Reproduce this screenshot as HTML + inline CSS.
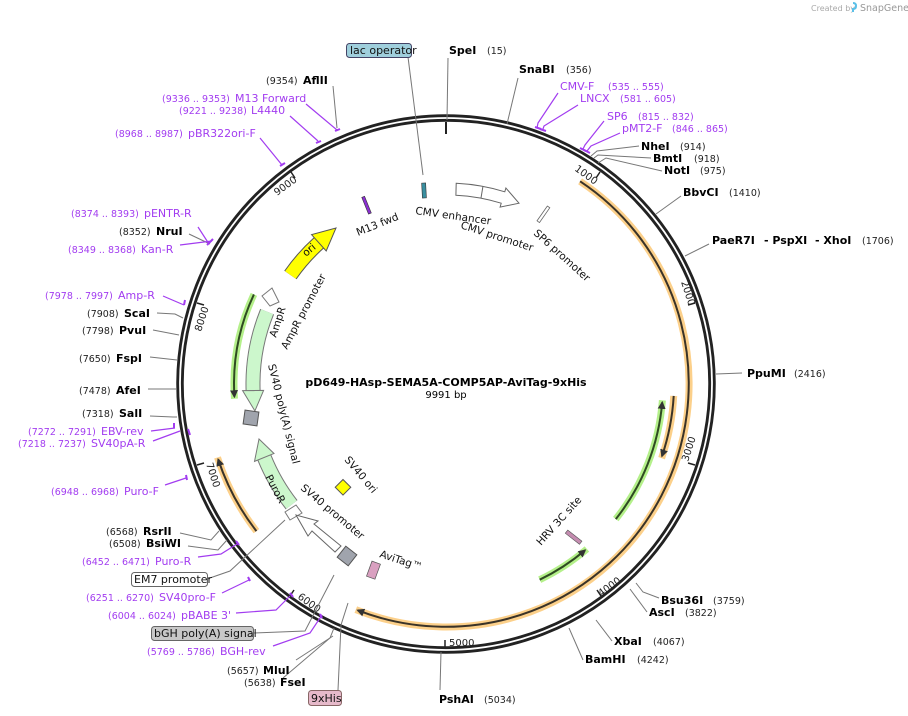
<!DOCTYPE html>
<html><head><meta charset="utf-8">
<style>
html,body{margin:0;padding:0;background:#fff;}
svg{display:block;}
text{font-family:"DejaVu Sans","Liberation Sans",sans-serif;}
.n{font-size:11px;font-weight:bold;fill:#000;}
.p{font-size:9.5px;fill:#222;}
.pu{font-size:11px;fill:#a23cf0;}
.pp{font-size:9.5px;fill:#a23cf0;}
.f{font-size:11px;fill:#111;}
.ln{stroke:#777;stroke-width:1;fill:none;}
.pl{stroke:#a23cf0;stroke-width:1.2;fill:none;}
</style></head>
<body>
<svg width="908" height="716" viewBox="0 0 908 716" xmlns="http://www.w3.org/2000/svg">
<defs>
<marker id="ah" viewBox="0 0 10 10" refX="8" refY="5" markerWidth="4" markerHeight="4" orient="auto" markerUnits="strokeWidth">
<path d="M0,0 L10,5 L0,10 z" fill="#333"/></marker>
</defs>
<text x="811" y="11" style="font-size:8px;fill:#aaa">Created by</text>
<path d="M853,3 q3,0 3,3 q0,3 -3,3 v3" stroke="#5bc0e8" stroke-width="2" fill="none"/>
<text x="860" y="11" style="font-size:9.5px;fill:#999">SnapGene</text>

<!-- backbone -->
<circle cx="446" cy="384" r="266" fill="none" stroke="#222" stroke-width="7.5"/>
<circle cx="446" cy="384" r="266" fill="none" stroke="#fff" stroke-width="1.8"/>

<!-- ticks -->
<g stroke="#222" stroke-width="2">
<line x1="446" y1="122" x2="446" y2="134"/>
</g>
<g stroke="#222" stroke-width="1.5">
<line x1="600" y1="172" x2="596" y2="178"/>
<line x1="695" y1="303" x2="688" y2="305"/>
<line x1="695" y1="465" x2="688" y2="463"/>
<line x1="601" y1="596" x2="597" y2="590"/>
<line x1="445" y1="647" x2="445" y2="640"/>
<line x1="290" y1="596" x2="294" y2="590"/>
<line x1="197" y1="465" x2="204" y2="463"/>
<line x1="197" y1="303" x2="204" y2="305"/>
<line x1="291" y1="172" x2="295" y2="178"/>
</g>
<g style="font-size:10px;fill:#222">
<text transform="translate(574,170) rotate(36)">1000</text>
<text transform="translate(681,282) rotate(72)">2000</text>
<text transform="translate(688,462) rotate(-72)">3000</text>
<text transform="translate(601,597) rotate(-36)">4000</text>
<text x="449" y="646">5000</text>
<text transform="translate(297,598) rotate(36)">6000</text>
<text transform="translate(206,464) rotate(72)">7000</text>
<text transform="translate(201,332) rotate(-72)">8000</text>
<text transform="translate(277,196) rotate(-36)">9000</text>
</g>

<!-- ORF arcs -->
<g fill="none">
<path d="M580.1,181.3 A243,243 0 0 1 355.8,609.6" stroke="#fcd08a" stroke-width="7"/>
<path d="M580.1,181.3 A243,243 0 0 1 357.8,610.3" stroke="#3a3328" stroke-width="2" marker-end="url(#ah)"/>
<path d="M673.7,395.9 A228,228 0 0 1 661.6,458.2" stroke="#fcd08a" stroke-width="7"/>
<path d="M673.7,395.9 A228,228 0 0 1 662,456" stroke="#3a3328" stroke-width="2" marker-end="url(#ah)"/>
<path d="M256.4,531.1 A240,240 0 0 1 217.5,457.4" stroke="#fcd08a" stroke-width="7"/>
<path d="M256.4,531.1 A240,240 0 0 1 218.2,459.5" stroke="#3a3328" stroke-width="2" marker-end="url(#ah)"/>
<path d="M615.8,519.1 A217,217 0 0 0 662.4,400.3" stroke="#b4f08a" stroke-width="7"/>
<path d="M615.8,519.1 A217,217 0 0 0 662.2,402.5" stroke="#2f4a22" stroke-width="2" marker-end="url(#ah)"/>
<path d="M539.7,579.7 A217,217 0 0 0 586.9,549.0" stroke="#b4f08a" stroke-width="7"/>
<path d="M539.7,579.7 A217,217 0 0 0 585,550.3" stroke="#2f4a22" stroke-width="2" marker-end="url(#ah)"/>
<path d="M253.9,294.4 A212,212 0 0 0 234.5,398.8" stroke="#b4f08a" stroke-width="7"/>
<path d="M253.9,294.4 A212,212 0 0 0 234.4,396.6" stroke="#2f4a22" stroke-width="2" marker-end="url(#ah)"/>
</g>

<!-- AmpR -->
<path d="M267.1,311.7 A193,193 0 0 0 253.1,390.7" fill="none" stroke="#777" stroke-width="15"/>
<path d="M267.1,311.7 A193,193 0 0 0 253.1,390.7" fill="none" stroke="#ccf7cc" stroke-width="13"/>
<polygon points="242.6,390.6 263.6,390.4 254.9,410.9" fill="#ccf7cc" stroke="#777" stroke-width="1"/>
<polygon points="262,296 272,288 279,302 270,306" fill="#fff" stroke="#777" stroke-width="1"/>
<!-- ori -->
<path d="M290.4,275.0 A190,190 0 0 1 318.9,242.8" fill="none" stroke="#555" stroke-width="15"/>
<path d="M290.4,275.0 A190,190 0 0 1 318.9,242.8" fill="none" stroke="#ffff00" stroke-width="13"/>
<polygon points="311.5,234.6 326.2,251.0 336,228" fill="#ffff00" stroke="#555" stroke-width="1"/>
<!-- PuroR -->
<path d="M291.6,504.7 A196,196 0 0 1 264.3,457.4" fill="none" stroke="#777" stroke-width="15"/>
<path d="M291.6,504.7 A196,196 0 0 1 264.3,457.4" fill="none" stroke="#ccf7cc" stroke-width="13"/>
<polygon points="254.5,461.4 274,453.5 259,439" fill="#ccf7cc" stroke="#777" stroke-width="1"/>
<polygon points="285,512 296,505 302,513 290,520" fill="#fff" stroke="#777" stroke-width="1"/>
<!-- CMV -->
<path d="M456.2,183.3 A201,201 0 0 1 504.8,191.8 L505.9,188 L519,203.2 L500.1,207.1 L501.2,203.2 A189,189 0 0 0 455.9,195.3 Z" fill="#fff" stroke="#666" stroke-width="1"/>
<line x1="483" y1="186" x2="481" y2="198" stroke="#666"/>
<!-- SV40 promoter -->
<path d="M335,552 L312,531 L308,536 L296,515 L318,521 L314,524 L341,546 Z" fill="#fff" stroke="#666" stroke-width="1"/>
<!-- small features -->
<rect x="244" y="411" width="14" height="14" fill="#a0a4ad" stroke="#555" transform="rotate(8 251 418)"/>
<rect x="340" y="549" width="14" height="14" fill="#a0a4ad" stroke="#555" transform="rotate(38 347 556)"/>
<rect x="337" y="482" width="11" height="11" fill="#ffff00" stroke="#555" transform="rotate(45 343 488)"/>
<rect x="422" y="183" width="4" height="15" fill="#3a8fa0" stroke="#333" stroke-width=".6" transform="rotate(-3 424 190)"/>
<rect x="365" y="196" width="3" height="18" fill="#8a2fd0" stroke="#333" stroke-width=".6" transform="rotate(-22 367 205)"/>
<rect x="542" y="205" width="3" height="18" fill="#fff" stroke="#666" stroke-width=".8" transform="rotate(35 543 214)"/>
<rect x="572" y="529" width="4" height="18" fill="#c48cb0" stroke="#555" stroke-width=".6" transform="rotate(-52 573 538)"/>
<rect x="369" y="562" width="9" height="16" fill="#d9a0c0" stroke="#555" stroke-width=".7" transform="rotate(20 373 570)"/>

<!-- inner labels -->
<g style="font-size:10.5px;fill:#111">
<text transform="translate(415,214) rotate(8)">CMV enhancer</text>
<text transform="translate(460,228) rotate(18)">CMV promoter</text>
<text transform="translate(533,234) rotate(42)">SP6 promoter</text>
<text transform="translate(358,236) rotate(-22)">M13 fwd</text>
<text transform="translate(306,257) rotate(-40)">ori</text>
<text transform="translate(287,350) rotate(-62)">AmpR promoter</text>
<text transform="translate(276,338) rotate(-72)">AmpR</text>
<text transform="translate(268,365) rotate(76)">SV40 poly(A) signal</text>
<text transform="translate(265,477) rotate(62)">PuroR</text>
<text transform="translate(344,460) rotate(50)">SV40 ori</text>
<text transform="translate(300,489) rotate(40)">SV40 promoter</text>
<text transform="translate(379,557) rotate(18)">AviTag™</text>
<text transform="translate(541,546) rotate(-48)">HRV 3C site</text>
</g>
<text x="446" y="386" text-anchor="middle" style="font-size:11px;font-weight:bold">pD649-HAsp-SEMA5A-COMP5AP-AviTag-9xHis</text>
<text x="446" y="398" text-anchor="middle" style="font-size:10px">9991 bp</text>

<!-- connector lines -->
<g class="ln">
<polyline points="408,57 423,175"/>
<polyline points="448,58 447,120"/>
<polyline points="518,78 507,124"/>
<polyline points="639,146 597,151 591,156"/>
<polyline points="651,158 598,155 594,158"/>
<polyline points="662,171 606,158 598,163"/>
<polyline points="681,196 656,214"/>
<polyline points="709,244 685,256"/>
<polyline points="742,373 716,374"/>
<polyline points="659,598 643,592 636,583"/>
<polyline points="647,612 630,589"/>
<polyline points="612,641 596,620"/>
<polyline points="583,660 569,628"/>
<polyline points="440,690 441,652"/>
<polyline points="338,690 341,625 348,603"/>
<polyline points="283,678 330,638 334,628"/>
<polyline points="296,660 333,636"/>
<polyline points="253,633 305,631 334,575"/>
<polyline points="207,579 230,571 285,520"/>
<polyline points="188,546 218,550 227,540"/>
<polyline points="180,533 211,540 219,531"/>
<polyline points="150,416 173,417 177,417"/>
<polyline points="148,389 176,389"/>
<polyline points="150,357 177,360"/>
<polyline points="153,330 179,335"/>
<polyline points="157,313 175,314 183,318"/>
<polyline points="189,234 210,244"/>
<polyline points="333,86 337,128"/>
</g>
<g class="pl">
<polyline points="558,93 538,123 537,128"/>
<polyline points="578,105 544,126 543,129"/>
<polyline points="604,121 585,145 583,149"/>
<polyline points="620,133 591,146 587,151"/>
<polyline points="306,104 337,130"/>
<polyline points="290,116 318,141"/>
<polyline points="260,138 282,165"/>
<polyline points="198,227 209,244"/>
<polyline points="180,245 212,241"/>
<polyline points="163,296 184,305"/>
<polyline points="151,431 175,428"/>
<polyline points="153,441 180,431"/>
<polyline points="165,485 186,478"/>
<polyline points="198,557 221,554 237,544"/>
<polyline points="222,593 249,580"/>
<polyline points="236,613 276,610 290,596"/>
<polyline points="273,646 310,633 322,615"/>
</g>
<g stroke="#a23cf0" stroke-width="2">
<line x1="535" y1="127" x2="541" y2="129"/><line x1="540" y1="129" x2="546" y2="131"/>
<line x1="580" y1="148" x2="586" y2="151"/><line x1="584" y1="150" x2="590" y2="153"/>
<line x1="335" y1="131" x2="340" y2="129"/><line x1="316" y1="143" x2="321" y2="141"/>
<line x1="280" y1="166" x2="285" y2="163"/><line x1="207" y1="245" x2="213" y2="239"/>
<line x1="184" y1="305" x2="185" y2="300"/><line x1="174" y1="423" x2="174" y2="428"/>
<line x1="188" y1="429" x2="190" y2="435"/><line x1="186" y1="475" x2="187" y2="480"/>
<line x1="236" y1="541" x2="239" y2="545"/><line x1="248" y1="577" x2="250" y2="581"/>
<line x1="290" y1="593" x2="293" y2="597"/><line x1="320" y1="614" x2="322" y2="618"/>
</g>

<!-- boxed labels -->
<rect x="346.5" y="43.5" width="65" height="14" rx="3" fill="#9fcfdc" stroke="#446" stroke-width="1"/>
<text x="350" y="54" class="f">lac operator</text>
<rect x="308.5" y="690.5" width="33" height="15" rx="3" fill="#e6b9ca" stroke="#866" stroke-width="1"/>
<text x="311" y="702" class="f">9xHis</text>
<rect x="151.5" y="626.5" width="102" height="14" rx="3" fill="#c8c8c8" stroke="#666" stroke-width="1"/>
<text x="154" y="637" class="f">bGH poly(A) signal</text>
<rect x="131.5" y="572.5" width="76" height="14" rx="3" fill="#fff" stroke="#666" stroke-width="1"/>
<text x="134" y="583" class="f">EM7 promoter</text>

<!-- right side -->
<text x="449" y="54" class="n">SpeI</text><text x="487" y="54" class="p">(15)</text>
<text x="519" y="73" class="n">SnaBI</text><text x="566" y="73" class="p">(356)</text>
<text x="560" y="90" class="pu">CMV-F</text><text x="608" y="90" class="pp">(535 .. 555)</text>
<text x="580" y="102" class="pu">LNCX</text><text x="620" y="102" class="pp">(581 .. 605)</text>
<text x="607" y="120" class="pu">SP6</text><text x="638" y="120" class="pp">(815 .. 832)</text>
<text x="622" y="132" class="pu">pMT2-F</text><text x="672" y="132" class="pp">(846 .. 865)</text>
<text x="641" y="150" class="n">NheI</text><text x="680" y="150" class="p">(914)</text>
<text x="653" y="162" class="n">BmtI</text><text x="694" y="162" class="p">(918)</text>
<text x="664" y="174" class="n">NotI</text><text x="700" y="174" class="p">(975)</text>
<text x="683" y="196" class="n">BbvCI</text><text x="729" y="196" class="p">(1410)</text>
<text x="712" y="244" class="n">PaeR7I</text><text x="764" y="244" class="n">- PspXI</text><text x="815" y="244" class="n">- XhoI</text><text x="862" y="244" class="p">(1706)</text>
<text x="747" y="377" class="n">PpuMI</text><text x="794" y="377" class="p">(2416)</text>
<text x="661" y="604" class="n">Bsu36I</text><text x="713" y="604" class="p">(3759)</text>
<text x="649" y="616" class="n">AscI</text><text x="685" y="616" class="p">(3822)</text>
<text x="614" y="645" class="n">XbaI</text><text x="653" y="645" class="p">(4067)</text>
<text x="585" y="663" class="n">BamHI</text><text x="637" y="663" class="p">(4242)</text>
<text x="439" y="703" class="n">PshAI</text><text x="484" y="703" class="p">(5034)</text>

<!-- left side -->
<text x="244" y="686" class="p">(5638)</text><text x="280" y="686" class="n">FseI</text>
<text x="227" y="674" class="p">(5657)</text><text x="263" y="674" class="n">MluI</text>
<text x="147" y="655" class="pp">(5769 .. 5786)</text><text x="220" y="655" class="pu">BGH-rev</text>
<text x="108" y="619" class="pp">(6004 .. 6024)</text><text x="181" y="619" class="pu">pBABE 3'</text>
<text x="86" y="601" class="pp">(6251 .. 6270)</text><text x="159" y="601" class="pu">SV40pro-F</text>
<text x="82" y="565" class="pp">(6452 .. 6471)</text><text x="155" y="565" class="pu">Puro-R</text>
<text x="109" y="547" class="p">(6508)</text><text x="146" y="547" class="n">BsiWI</text>
<text x="106" y="535" class="p">(6568)</text><text x="143" y="535" class="n">RsrII</text>
<text x="51" y="495" class="pp">(6948 .. 6968)</text><text x="124" y="495" class="pu">Puro-F</text>
<text x="18" y="447" class="pp">(7218 .. 7237)</text><text x="91" y="447" class="pu">SV40pA-R</text>
<text x="28" y="435" class="pp">(7272 .. 7291)</text><text x="101" y="435" class="pu">EBV-rev</text>
<text x="82" y="417" class="p">(7318)</text><text x="119" y="417" class="n">SalI</text>
<text x="79" y="394" class="p">(7478)</text><text x="116" y="394" class="n">AfeI</text>
<text x="79" y="362" class="p">(7650)</text><text x="116" y="362" class="n">FspI</text>
<text x="82" y="334" class="p">(7798)</text><text x="119" y="334" class="n">PvuI</text>
<text x="87" y="317" class="p">(7908)</text><text x="124" y="317" class="n">ScaI</text>
<text x="45" y="299" class="pp">(7978 .. 7997)</text><text x="118" y="299" class="pu">Amp-R</text>
<text x="68" y="253" class="pp">(8349 .. 8368)</text><text x="141" y="253" class="pu">Kan-R</text>
<text x="119" y="235" class="p">(8352)</text><text x="156" y="235" class="n">NruI</text>
<text x="71" y="217" class="pp">(8374 .. 8393)</text><text x="144" y="217" class="pu">pENTR-R</text>
<text x="115" y="137" class="pp">(8968 .. 8987)</text><text x="188" y="137" class="pu">pBR322ori-F</text>
<text x="179" y="114" class="pp">(9221 .. 9238)</text><text x="251" y="114" class="pu">L4440</text>
<text x="162" y="102" class="pp">(9336 .. 9353)</text><text x="235" y="102" class="pu">M13 Forward</text>
<text x="266" y="84" class="p">(9354)</text><text x="303" y="84" class="n">AflII</text>
</svg>
</body></html>
